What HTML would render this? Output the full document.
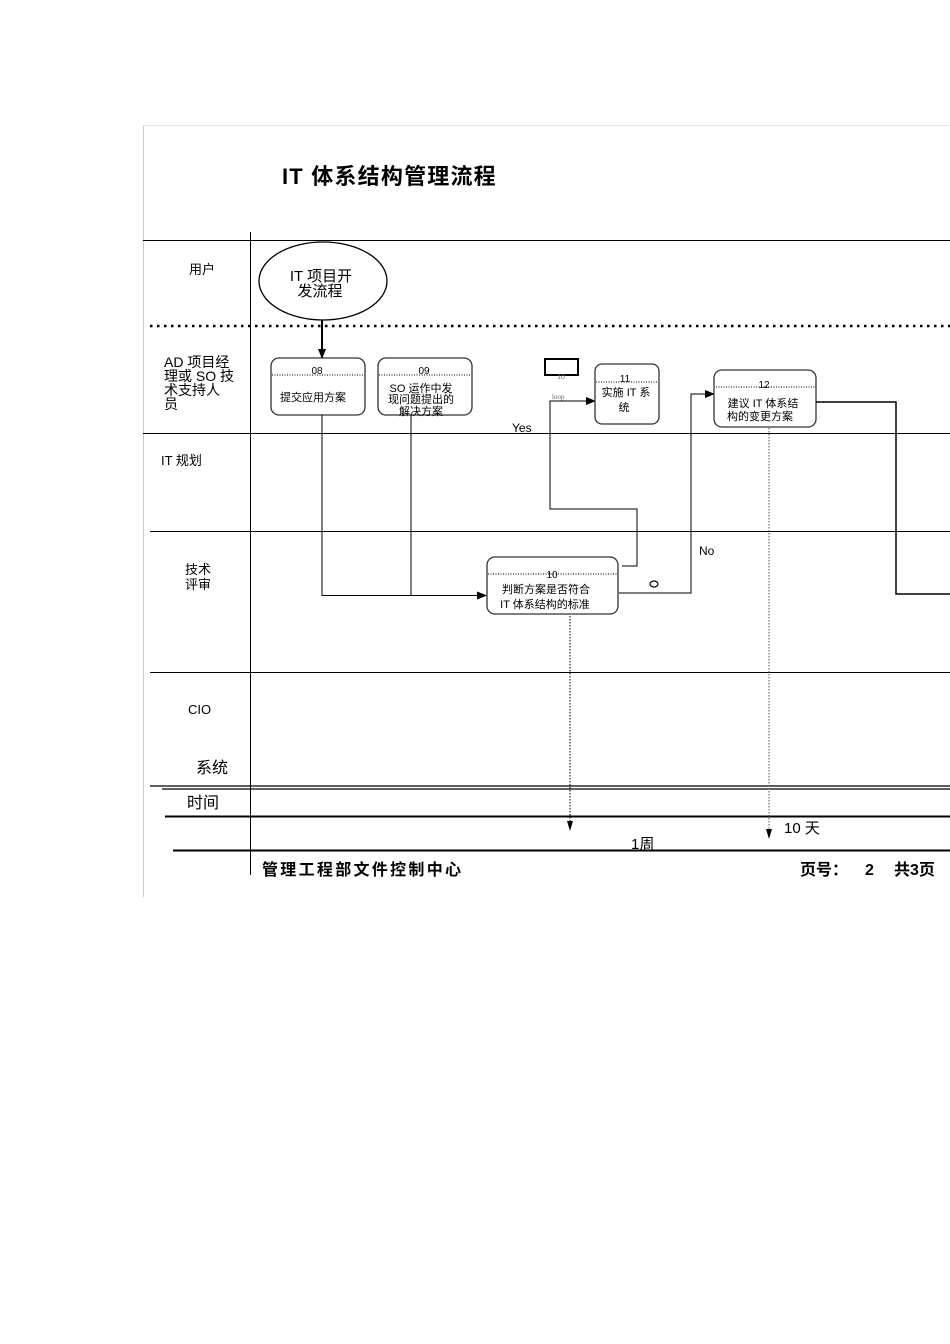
<!DOCTYPE html>
<html><head><meta charset="utf-8"><style>
html,body{margin:0;padding:0;background:#fff;}
svg{display:block;}
text{font-family:"Liberation Sans","Noto Sans CJK SC",sans-serif;fill:#000;}
</style></head><body>
<svg width="950" height="1344" viewBox="0 0 950 1344" xmlns="http://www.w3.org/2000/svg">
<defs>
<marker id="ar" markerWidth="10" markerHeight="8" refX="9" refY="4" orient="auto" markerUnits="userSpaceOnUse"><path d="M0,0 L10,4 L0,8 z" fill="#000"/></marker>
</defs>
<line x1="143.5" y1="125" x2="143.5" y2="897" stroke="#ccc"/>
<line x1="143" y1="125.5" x2="950" y2="125.5" stroke="#e4e4e4"/>
<text x="282" y="184" font-size="22" font-weight="bold" letter-spacing="1.2">IT 体系结构管理流程</text>
<line x1="143" y1="240.5" x2="950" y2="240.5" stroke="#000"/>
<line x1="250.5" y1="232" x2="250.5" y2="875" stroke="#000"/>
<line x1="150" y1="326" x2="950" y2="326" stroke="#000" stroke-width="2.5" stroke-dasharray="2.5,4.5"/>
<line x1="143" y1="433.5" x2="950" y2="433.5" stroke="#000"/>
<line x1="150" y1="531.5" x2="950" y2="531.5" stroke="#000"/>
<line x1="150" y1="672.5" x2="950" y2="672.5" stroke="#000"/>
<line x1="150" y1="786" x2="950" y2="786" stroke="#000" stroke-width="1.2"/>
<line x1="162" y1="789" x2="950" y2="789" stroke="#000" stroke-width="1.2"/>
<line x1="165" y1="816.5" x2="950" y2="816.5" stroke="#000" stroke-width="2"/>
<line x1="173" y1="850.5" x2="950" y2="850.5" stroke="#000" stroke-width="2"/>
<text x="189" y="274" font-size="13">用户</text>
<text x="164" y="367" font-size="14">AD 项目经</text>
<text x="164" y="381" font-size="14">理或 SO 技</text>
<text x="164" y="395" font-size="14">术支持人</text>
<text x="164" y="409" font-size="14">员</text>
<text x="161" y="465" font-size="13">IT 规划</text>
<text x="185" y="574" font-size="13">技术</text>
<text x="185" y="589" font-size="13">评审</text>
<text x="188" y="714" font-size="13">CIO</text>
<text x="196" y="773" font-size="16">系统</text>
<text x="187" y="808" font-size="16">时间</text>
<ellipse cx="323" cy="281" rx="64" ry="39" fill="#fff" stroke="#000" stroke-width="1.3"/>
<text x="321" y="281" font-size="15" text-anchor="middle">IT 项目开</text>
<text x="320" y="296" font-size="15" text-anchor="middle">发流程</text>
<line x1="322" y1="320" x2="322" y2="358" stroke="#000" stroke-width="2" marker-end="url(#ar)"/>
<rect x="271" y="358" width="94" height="57" rx="8" fill="#fff" stroke="#333" stroke-width="1.3"/>
<line x1="272" y1="375" x2="364" y2="375" stroke="#000" stroke-dasharray="1,1.5"/>
<text x="317" y="374" font-size="10" text-anchor="middle">08</text>
<text x="313" y="401" font-size="11" text-anchor="middle">提交应用方案</text>
<rect x="378" y="358" width="94" height="57" rx="8" fill="#fff" stroke="#333" stroke-width="1.3"/>
<line x1="379" y1="375" x2="471" y2="375" stroke="#000" stroke-dasharray="1,1.5"/>
<text x="424" y="374" font-size="10" text-anchor="middle">09</text>
<text x="421" y="392" font-size="11" text-anchor="middle">SO 运作中发</text>
<text x="421" y="403" font-size="11" text-anchor="middle">现问题提出的</text>
<text x="421" y="415" font-size="11" text-anchor="middle">解决方案</text>
<polyline points="322,415 322,596" fill="none" stroke="#000"/>
<polyline points="411,415 411,596" fill="none" stroke="#000"/>
<line x1="322" y1="595.5" x2="486" y2="595.5" stroke="#000" marker-end="url(#ar)"/>
<rect x="487" y="557" width="131" height="57" rx="8" fill="#fff" stroke="#333" stroke-width="1.3"/>
<line x1="488" y1="574" x2="617" y2="574" stroke="#000" stroke-dasharray="1,1.5"/>
<text x="552" y="578" font-size="10" text-anchor="middle">10</text>
<text x="546" y="593" font-size="11" text-anchor="middle">判断方案是否符合</text>
<text x="545" y="608" font-size="11" text-anchor="middle">IT 体系结构的标准</text>
<polyline points="622,566 637,566 637,509 550,509 550,401 595,401" fill="none" stroke="#000" marker-end="url(#ar)"/>
<text x="512" y="432" font-size="12">Yes</text>
<rect x="545" y="359" width="33" height="16" fill="#fff" stroke="#000" stroke-width="2"/>
<text x="561" y="379" font-size="7" text-anchor="middle" style="fill:#777">10</text>
<text x="552" y="399" font-size="7" style="fill:#666;font-family:'Liberation Serif',serif">loop</text>
<rect x="595" y="364" width="64" height="60" rx="7" fill="#fff" stroke="#333" stroke-width="1.3"/>
<line x1="596" y1="382" x2="658" y2="382" stroke="#000" stroke-dasharray="1,1.5"/>
<text x="625" y="382" font-size="10" text-anchor="middle">11</text>
<text x="626" y="396" font-size="11" text-anchor="middle">实施 IT 系</text>
<text x="624" y="411" font-size="11" text-anchor="middle">统</text>
<polyline points="619,593 691,593 691,394 714,394" fill="none" stroke="#000" marker-end="url(#ar)"/>
<text x="699" y="555" font-size="12">No</text>
<ellipse cx="654" cy="584" rx="4" ry="3" fill="none" stroke="#000" stroke-width="1.2"/>
<rect x="714" y="370" width="102" height="57" rx="8" fill="#fff" stroke="#333" stroke-width="1.3"/>
<line x1="716" y1="387" x2="815" y2="387" stroke="#000" stroke-dasharray="1,1.5"/>
<text x="764" y="388" font-size="10" text-anchor="middle">12</text>
<text x="763" y="407" font-size="11" text-anchor="middle">建议 IT 体系结</text>
<text x="760" y="420" font-size="11" text-anchor="middle">构的变更方案</text>
<polyline points="816,402 896,402 896,594 950,594" fill="none" stroke="#000" stroke-width="1.5"/>
<line x1="570" y1="616" x2="570" y2="826" stroke="#000" stroke-dasharray="1.5,1.5"/>
<path d="M567,821 L573,821 L570,831 z" fill="#000"/>
<line x1="769" y1="428" x2="769" y2="832" stroke="#555" stroke-dasharray="1.5,1.5"/>
<path d="M766,829 L772,829 L769,839 z" fill="#000"/>
<text x="784" y="833" font-size="15">10 天</text>
<text x="631" y="849" font-size="15">1周</text>
<text x="262" y="875" font-size="16" font-weight="bold" letter-spacing="2.3">管理工程部文件控制中心</text>
<text x="800" y="875" font-size="16" font-weight="bold">页号：</text>
<text x="865" y="875" font-size="16" font-weight="bold">2</text>
<text x="894" y="875" font-size="16" font-weight="bold">共3页</text>
</svg>
</body></html>
